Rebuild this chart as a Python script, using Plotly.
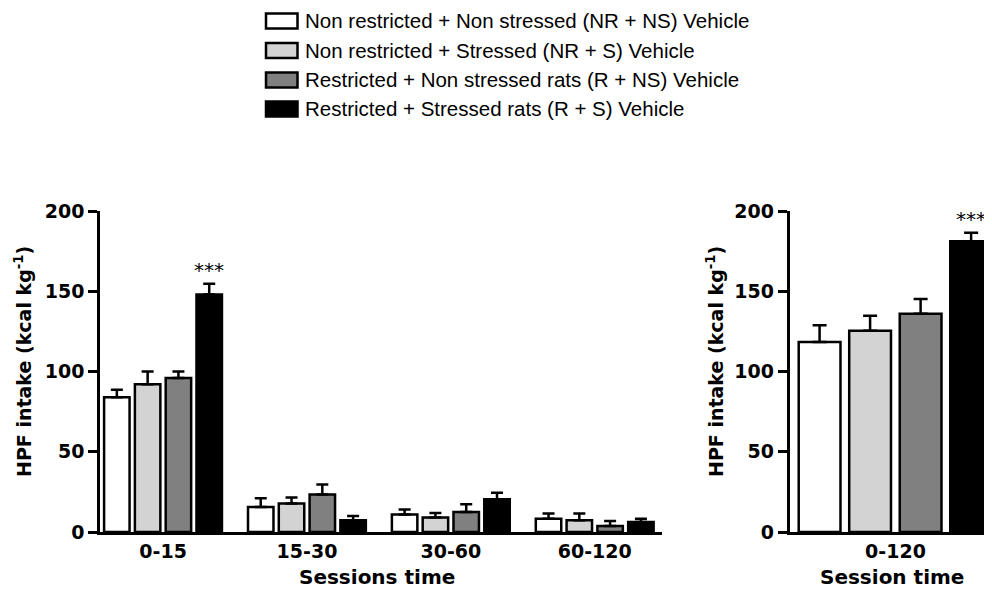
import plotly.graph_objects as go

# ---------------- data ----------------
group_names = [
    "Non restricted + Non stressed (NR + NS) Vehicle",
    "Non restricted + Stressed (NR + S) Vehicle",
    "Restricted + Non stressed rats (R + NS) Vehicle",
    "Restricted + Stressed rats (R + S) Vehicle",
]
group_colors = ["#ffffff", "#d3d3d3", "#808080", "#000000"]

session_bins = ["0-15", "15-30", "30-60", "60-120"]
nrns_mean = [84.0, 15.6, 10.9, 8.3]
nrns_sem = [4.6, 5.4, 3.1, 3.2]
nrs_mean = [92.0, 17.7, 9.0, 7.3]
nrs_sem = [8.0, 3.8, 2.9, 4.2]
rns_mean = [96.0, 23.4, 12.5, 3.8]
rns_sem = [4.0, 6.2, 4.8, 3.1]
rs_mean = [148.0, 7.3, 20.4, 6.3]
rs_sem = [6.6, 2.7, 4.0, 2.0]

total_bin = ["0-120"]
total_mean = [118.4, 125.4, 136.0, 181.2]
total_sem = [10.4, 9.4, 9.2, 5.3]

y_ticks = [0, 50, 100, 150, 200]
signif_label = "***"

# ---------------- layout constants ----------------
W, H = 992, 590
OFF = 8  # page body margin in the browser
slot = 0.214
barw = 0.177
shifts = [-0.3215 + k * slot for k in range(4)]

bold = dict(family="DejaVu Sans", size=19, color="black", weight="bold")

fig = go.Figure()

per_bin_means = [nrns_mean, nrs_mean, rns_mean, rs_mean]
per_bin_sems = [nrns_sem, nrs_sem, rns_sem, rs_sem]

for k in range(4):
    fig.add_trace(go.Bar(
        x=[i + shifts[k] for i in range(len(session_bins))],
        y=per_bin_means[k],
        width=barw,
        name=group_names[k],
        marker=dict(color=group_colors[k], line=dict(color="black", width=2.5)),
        error_y=dict(type="data", array=per_bin_sems[k],
                     arrayminus=[0] * len(session_bins), symmetric=False,
                     color="black", thickness=2.5, width=6),
        xaxis="x", yaxis="y", showlegend=False,
    ))

for k in range(4):
    fig.add_trace(go.Bar(
        x=[shifts[k]],
        y=[total_mean[k]],
        width=barw,
        name=group_names[k],
        marker=dict(color=group_colors[k], line=dict(color="black", width=2.5)),
        error_y=dict(type="data", array=[total_sem[k]], arrayminus=[0],
                     symmetric=False, color="black", thickness=2.5, width=7),
        xaxis="x2", yaxis="y2", showlegend=False,
    ))

def px(x):
    return (x - OFF) / W

def py(y):
    return 1 - (y - OFF) / H

ydom = [py(532), py(211)]

axis_common = dict(showline=True, linecolor="black", linewidth=2.5,
                   showgrid=False, zeroline=False, tickfont=bold,
                   automargin=False)

fig.update_layout(
    template="none",
    width=W, height=H,
    margin=dict(l=0, r=0, t=0, b=0, pad=0, autoexpand=False),
    paper_bgcolor="white", plot_bgcolor="white",
    barmode="overlay",
    xaxis=dict(domain=[px(100), px(661.7)], range=[-0.4385, 3.465],
               tickvals=list(range(len(session_bins))), ticktext=session_bins,
               ticks="", anchor="y", **axis_common),
    yaxis=dict(domain=ydom, range=[0, 200], tickvals=y_ticks,
               ticks="outside", ticklen=9, tickwidth=2.5, tickcolor="black",
               anchor="x", **axis_common),
    xaxis2=dict(domain=[px(789.5), px(992)], range=[-0.449, 0.409],
                tickvals=[0], ticktext=total_bin, ticks="", anchor="y2",
                **axis_common),
    yaxis2=dict(domain=ydom, range=[0, 200], tickvals=y_ticks,
                ticks="outside", ticklen=9, tickwidth=2.5, tickcolor="black",
                anchor="x2", **axis_common),
)

title_font = dict(family="DejaVu Sans", size=20, weight="bold", color="black")
ytitle_font = dict(family="DejaVu Sans", size=19, weight="bold", color="black")
star_font = dict(family="DejaVu Sans", size=20, color="black")

annotations = []
# axis titles
annotations.append(dict(text="Sessions time", x=px(377), y=py(577),
                        xref="paper", yref="paper", showarrow=False,
                        xanchor="center", yanchor="middle", font=title_font))
annotations.append(dict(text="Session time", x=px(892), y=py(577),
                        xref="paper", yref="paper", showarrow=False,
                        xanchor="center", yanchor="middle", font=title_font))
for xc in (23, 715):
    annotations.append(dict(text="HPF intake (kcal kg<sup>-1</sup>)", x=px(xc), y=py(362),
                            xref="paper", yref="paper", showarrow=False, textangle=-90,
                            xanchor="center", yanchor="middle", font=ytitle_font))

# significance stars
annotations.append(dict(text=signif_label, x=0 + shifts[3], y=rs_mean[0] + rs_sem[0],
                        xref="x", yref="y", showarrow=False,
                        xanchor="center", yanchor="bottom", yshift=0, font=star_font))
annotations.append(dict(text=signif_label, x=shifts[3], y=total_mean[3] + total_sem[3],
                        xref="x2", yref="y2", showarrow=False,
                        xanchor="center", yanchor="bottom", yshift=0, font=star_font))

# manual legend
shapes = []
row_y = [21, 50.5, 80, 109]
for k in range(4):
    shapes.append(dict(type="rect", xref="paper", yref="paper",
                       x0=px(266), x1=px(297.5), y0=py(row_y[k] - 7.5), y1=py(row_y[k] + 7.5),
                       fillcolor=group_colors[k], line=dict(color="black", width=2.5)))
    annotations.append(dict(text=group_names[k], x=px(303), y=py(row_y[k]),
                            xref="paper", yref="paper", showarrow=False,
                            xanchor="left", yanchor="middle",
                            font=dict(family="Liberation Sans", size=20.5, color="black")))

fig.update_layout(annotations=annotations, shapes=shapes)

fig.write_html("out.html")
